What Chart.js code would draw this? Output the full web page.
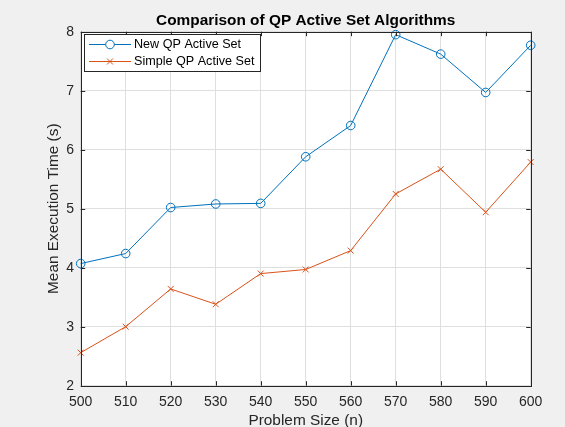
<!DOCTYPE html>
<html>
<head>
<meta charset="utf-8">
<script src="https://cdn.jsdelivr.net/npm/chart.js@4.4.1/dist/chart.umd.min.js"></script>
<style>
  html, body { margin: 0; padding: 0; background: #f0f0f0; }
  #wrap { width: 565px; height: 427px; }
  canvas { display: block; }
</style>
</head>
<body>
<div id="wrap"><canvas id="chart" width="565" height="427"></canvas></div>
<script>
// Problem sizes (n) on the x axis
const problemSizes = [500, 510, 520, 530, 540, 550, 560, 570, 580, 590, 600];
// Mean execution time (s) for each algorithm
const newQpTimes    = [4.07, 4.24, 5.02, 5.08, 5.09, 5.88, 6.41, 7.95, 7.62, 6.97, 7.77];
const simpleQpTimes = [2.56, 3.00, 3.64, 3.38, 3.90, 3.97, 4.29, 5.25, 5.67, 4.94, 5.79];
// Axis tick values
const xTickValues = [500, 510, 520, 530, 540, 550, 560, 570, 580, 590, 600];
const yTickValues = [2, 3, 4, 5, 6, 7, 8];

const seriesNames = ['New QP Active Set', 'Simple QP Active Set'];
const titleText = 'Comparison of QP Active Set Algorithms';

const FONT = '"Liberation Sans", Arial, Helvetica, sans-serif';
const AXIS_COLOR = '#262626';
const GRID_COLOR = '#dfdfdf';
const BLUE = '#0072bd';
const ORANGE = '#d95319';

const toPoints = (ys) => problemSizes.map((x, i) => ({ x: x, y: ys[i] }));

// Figure background and white axes area
const backgroundPlugin = {
  id: 'figureBackground',
  beforeDraw(chart) {
    const { ctx, chartArea: a } = chart;
    ctx.save();
    ctx.fillStyle = '#f0f0f0';
    ctx.fillRect(0, 0, chart.width, chart.height);
    ctx.fillStyle = '#ffffff';
    ctx.fillRect(a.left, a.top, a.right - a.left, a.bottom - a.top);
    ctx.restore();
  }
};

// Axes box with inward tick marks on all four sides
const framePlugin = {
  id: 'axesFrame',
  afterDatasetsDraw(chart) {
    const { ctx, chartArea: a, scales } = chart;
    const L = 4.5;
    ctx.save();
    ctx.strokeStyle = AXIS_COLOR;
    ctx.lineWidth = 1;
    ctx.beginPath();
    scales.x.ticks.forEach(t => {
      const px = Math.round(scales.x.getPixelForValue(t.value)) + 0.5;
      ctx.moveTo(px, a.bottom); ctx.lineTo(px, a.bottom - L);
      ctx.moveTo(px, a.top); ctx.lineTo(px, a.top + L);
    });
    scales.y.ticks.forEach(t => {
      const py = Math.round(scales.y.getPixelForValue(t.value)) + 0.5;
      ctx.moveTo(a.left, py); ctx.lineTo(a.left + L, py);
      ctx.moveTo(a.right, py); ctx.lineTo(a.right - L, py);
    });
    ctx.stroke();
    ctx.strokeRect(Math.round(a.left) + 0.5, Math.round(a.top) + 0.5,
                   Math.round(a.right - a.left), Math.round(a.bottom - a.top));
    ctx.restore();
  }
};

// Bold title centred over the axes, and the boxed legend in the upper-left corner
const annotatePlugin = {
  id: 'titleAndLegend',
  afterDraw(chart) {
    const { ctx, chartArea: a } = chart;
    ctx.save();
    ctx.fillStyle = '#000000';
    ctx.font = 'bold 15.4px ' + FONT;
    ctx.textAlign = 'center';
    ctx.textBaseline = 'alphabetic';
    ctx.fillText(titleText, (a.left + a.right) / 2, 25);

    // legend box
    const bx = 84.5, by = 34.5, bw = 176, bh = 37;
    ctx.fillStyle = '#ffffff';
    ctx.fillRect(bx, by, bw, bh);
    ctx.strokeStyle = AXIS_COLOR;
    ctx.lineWidth = 1;
    ctx.strokeRect(bx, by, bw, bh);

    const rows = [44.5, 61.5];
    chart.data.datasets.forEach((ds, i) => {
      const y = rows[i];
      ctx.strokeStyle = ds.borderColor;
      ctx.lineWidth = ds.borderWidth;
      ctx.beginPath();
      ctx.moveTo(89, y); ctx.lineTo(131, y);
      ctx.stroke();
      Chart.helpers.drawPoint(ctx, {
        pointStyle: ds.pointStyle, radius: ds.pointRadius,
        borderWidth: ds.pointBorderWidth, rotation: 0
      }, 110, y);
      ctx.fillStyle = '#000000';
      ctx.font = '12.6px ' + FONT;
      ctx.textAlign = 'left';
      ctx.textBaseline = 'middle';
      ctx.fillText(ds.label, 134, y + 0.5);
    });
    ctx.restore();
  }
};

new Chart(document.getElementById('chart'), {
  type: 'line',
  data: {
    datasets: [
      {
        label: seriesNames[0],
        data: toPoints(newQpTimes),
        borderColor: BLUE,
        backgroundColor: 'rgba(0,0,0,0)',
        borderWidth: 1,
        pointStyle: 'circle',
        pointRadius: 4.3,
        pointBorderWidth: 1,
        pointBorderColor: BLUE,
        pointBackgroundColor: 'rgba(0,0,0,0)',
        tension: 0,
        clip: false
      },
      {
        label: seriesNames[1],
        data: toPoints(simpleQpTimes),
        borderColor: ORANGE,
        backgroundColor: 'rgba(0,0,0,0)',
        borderWidth: 1,
        pointStyle: 'crossRot',
        pointRadius: 4.2,
        pointBorderWidth: 1,
        pointBorderColor: ORANGE,
        pointBackgroundColor: 'rgba(0,0,0,0)',
        tension: 0,
        clip: false
      }
    ]
  },
  options: {
    responsive: false,
    devicePixelRatio: 1,
    animation: false,
    layout: { padding: { top: 31.7, right: 34.3, bottom: 0, left: 0 } },
    plugins: {
      legend: { display: false },
      title: { display: false },
      tooltip: { enabled: false }
    },
    scales: {
      x: {
        type: 'linear',
        min: 500,
        max: 600,
        afterBuildTicks(scale) { scale.ticks = xTickValues.map(v => ({ value: v })); },
        afterFit(scale) { scale.height = 41.3; },
        grid: { color: GRID_COLOR, lineWidth: 1, drawTicks: false },
        border: { display: false },
        ticks: {
          color: AXIS_COLOR,
          font: { family: FONT, size: 14 },
          padding: 7.6,
          maxRotation: 0,
          autoSkip: false
        },
        title: {
          display: true,
          text: 'Problem Size (n)',
          color: AXIS_COLOR,
          font: { family: FONT, size: 15.4, lineHeight: 1 },
          padding: { top: 0, bottom: -1 }
        }
      },
      y: {
        type: 'linear',
        min: 2,
        max: 8,
        afterBuildTicks(scale) { scale.ticks = yTickValues.map(v => ({ value: v })); },
        afterFit(scale) { scale.width = 80.7; },
        grid: { color: GRID_COLOR, lineWidth: 1, drawTicks: false },
        border: { display: false },
        ticks: {
          color: AXIS_COLOR,
          font: { family: FONT, size: 14 },
          padding: 6.7,
          autoSkip: false
        },
        title: {
          display: true,
          text: 'Mean Execution Time (s)',
          color: AXIS_COLOR,
          font: { family: FONT, size: 15.4, lineHeight: 1 },
          padding: { top: 46, bottom: 0 }
        }
      }
    }
  },
  plugins: [backgroundPlugin, framePlugin, annotatePlugin]
});
</script>
</body>
</html>
